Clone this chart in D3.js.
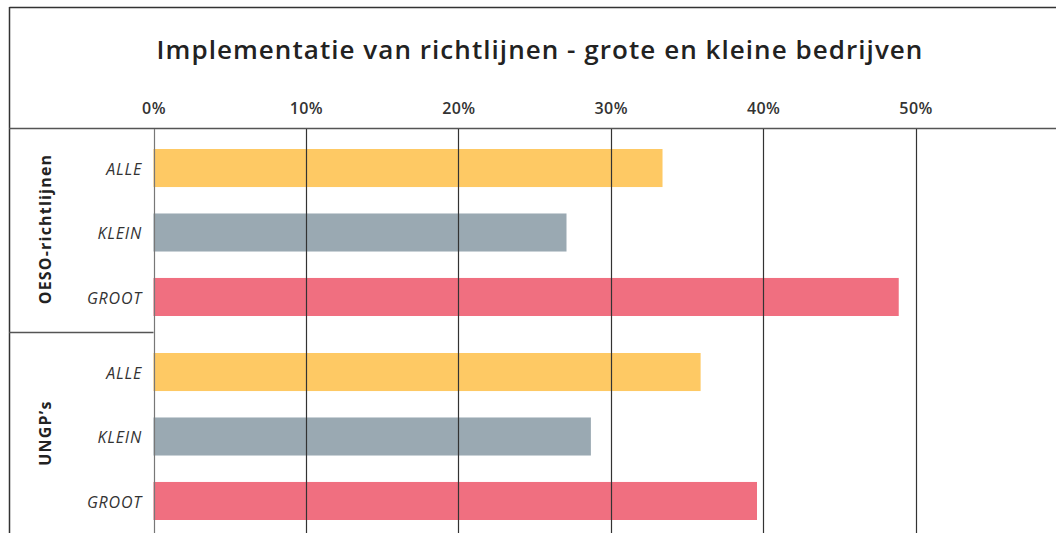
<!DOCTYPE html>
<html>
<head>
<meta charset="utf-8">
<script src="https://cdn.jsdelivr.net/npm/d3@7"></script>
<style>
  body { margin: 0; background: #fff; }
  svg { display: block; font-family: "Open Sans", Lato, sans-serif; }
</style>
</head>
<body>
<div id="my_dataviz"></div>
<script>
(function() {

const width = 1056,
height = 533;

// data
const groups = ["OESO-richtlijnen", "UNGP\u2019s"];
const sizes = ["ALLE", "KLEIN", "GROOT"];
const oesoValues = [0.334, 0.271, 0.489];
const ungpValues = [0.359, 0.287, 0.396];
const colors = ["#fec964", "#9aa9b2", "#f06f80"];
const ticks = [0, 0.1, 0.2, 0.3, 0.4, 0.5];

const rows = [];
groups.forEach((g, i) => {
  const vals = i === 0 ? oesoValues : ungpValues;
  sizes.forEach((s, j) => rows.push({group: g, size: s, value: vals[j]}));
});

const svg = d3.select("#my_dataviz")
  .append("svg")
  .attr("width", width)
  .attr("height", height)
  .attr("viewBox", [0, 0, width, height]);

const x = d3.scaleLinear()
  .domain([0, 0.5])
  .range([153.5, 915.5]);

const yGroup = d3.scaleBand()
  .domain(groups)
  .range([128, 536]);

const yRow = d3.scaleBand()
  .domain(sizes)
  .range([21, 21 + 167])
  .paddingInner(0.41);

const color = d3.scaleOrdinal(sizes, colors);

// frame
svg.append("line")
  .attr("x1", 9.5).attr("x2", width).attr("y1", 7.5).attr("y2", 7.5)
  .attr("stroke", "#333").attr("stroke-width", 1.5);
svg.append("line")
  .attr("x1", 9.5).attr("x2", 9.5).attr("y1", 7).attr("y2", height)
  .attr("stroke", "#333").attr("stroke-width", 1.5);
svg.append("line")
  .attr("x1", 9).attr("x2", width).attr("y1", 128.5).attr("y2", 128.5)
  .attr("stroke", "#555").attr("stroke-width", 1.5);
svg.append("line")
  .attr("x1", 9).attr("x2", x(0)).attr("y1", yGroup(groups[1]) + 0.5).attr("y2", yGroup(groups[1]) + 0.5)
  .attr("stroke", "#555").attr("stroke-width", 1.5);

// title
svg.append("text")
  .attr("x", 540)
  .attr("y", 59)
  .attr("text-anchor", "middle")
  .attr("font-size", 26)
  .attr("font-weight", 600)
  .attr("fill", "#222")
  .attr("letter-spacing", 1.05)
  .text("Implementatie van richtlijnen - grote en kleine bedrijven");

// bars
svg.append("g")
  .selectAll("rect")
  .data(rows)
  .join("rect")
  .attr("x", x(0))
  .attr("y", d => yGroup(d.group) + yRow(d.size))
  .attr("width", d => x(d.value) - x(0))
  .attr("height", yRow.bandwidth())
  .attr("fill", d => color(d.size));

// grid + axis
const xAxis = d3.axisTop(x)
  .tickValues(ticks)
  .tickFormat(d3.format(".0%"))
  .tickSize(0)
  .tickPadding(0);

svg.append("g")
  .attr("transform", "translate(0,114)")
  .call(xAxis)
  .call(g => g.select(".domain").remove())
  .call(g => g.selectAll("text")
    .attr("font-family", "'Open Sans', sans-serif")
    .attr("font-size", 16)
    .attr("font-weight", 600)
    .attr("letter-spacing", 0.4)
    .attr("fill", "#333"));

svg.append("g")
  .selectAll("line")
  .data(ticks)
  .join("line")
  .attr("x1", d => Math.round(x(d)) + 0.5)
  .attr("x2", d => Math.round(x(d)) + 0.5)
  .attr("y1", 129)
  .attr("y2", height)
  .attr("stroke", d => d === 0 ? "#777" : "#333")
  .attr("stroke-width", 1.2);

// row labels
svg.append("g")
  .selectAll("text")
  .data(rows)
  .join("text")
  .attr("x", 142)
  .attr("y", d => yGroup(d.group) + yRow(d.size) + yRow.bandwidth() / 2 + 1)
  .attr("dy", "0.35em")
  .attr("text-anchor", "end")
  .attr("font-size", 16)
  .attr("font-style", "italic")
  .attr("letter-spacing", 0.8)
  .attr("fill", "#333")
  .text(d => d.size);

// group labels
svg.append("g")
  .selectAll("text")
  .data(groups)
  .join("text")
  .attr("transform", d => `translate(45,${yGroup(d) + 101}) rotate(-90)`)
  .attr("dy", "0.35em")
  .attr("text-anchor", "middle")
  .attr("font-size", 16)
  .attr("font-weight", 700)
  .attr("fill", "#222")
  .attr("letter-spacing", 1.2)
  .text(d => d);

})();
</script>
</body>
</html>
